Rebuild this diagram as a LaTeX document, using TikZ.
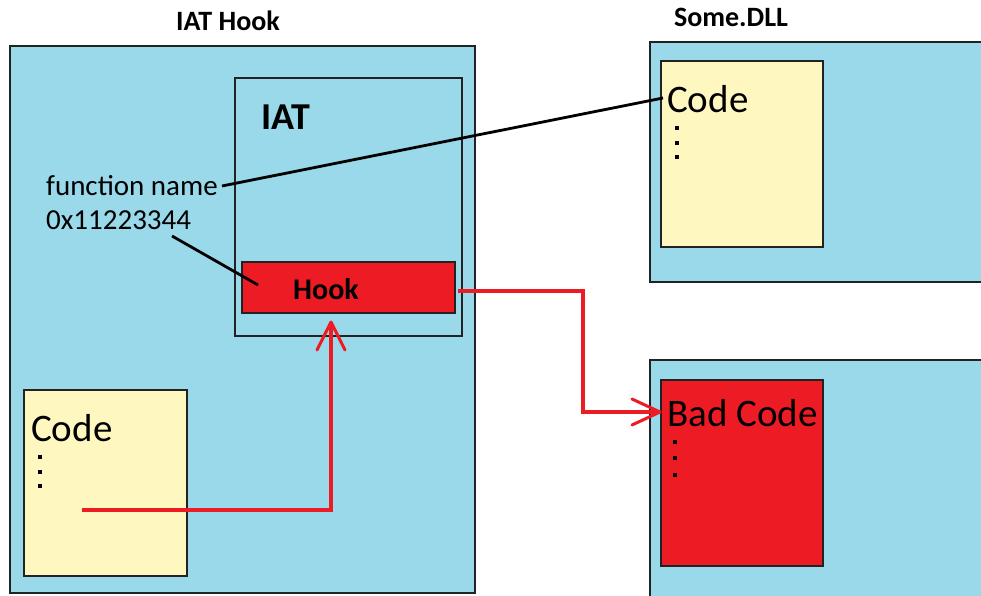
\documentclass[tikz,border=0pt]{standalone}
\usepackage{fontspec}
\setmainfont{Carlito}
\definecolor{skyb}{HTML}{9AD9EA}
\definecolor{cream}{HTML}{FFF7C0}
\definecolor{paintred}{HTML}{ED1C24}
\definecolor{edge}{HTML}{222222}
\tikzset{
  box/.style={draw=edge, line width=1.3pt, anchor=north west, inner sep=0pt, outer sep=0pt},
  title/.style={font=\bfseries\fontsize{28}{28}\selectfont, inner sep=0pt},
  bigtxt/.style={font=\fontsize{39}{39}\selectfont, inner sep=0pt, anchor=west},
  lbl/.style={font=\fontsize{29}{29}\selectfont, inner sep=0pt, anchor=west},
  link/.style={line width=2.8pt, draw=black},
  redline/.style={line width=3.4pt, draw=paintred, line join=miter},
  barb/.style={line width=3pt, draw=paintred, line join=round, line cap=round},
  dot/.style={fill=black, minimum size=4.5pt, inner sep=0pt, shape=rectangle}
}
\begin{document}
\begin{tikzpicture}[x=1pt,y=-1pt]
\useasboundingbox (0,0) rectangle (981,596);
% titles
\node[title] (t1) at (228,21) {IAT Hook};
\node[title] (t2) at (731,17) {Some.DLL};
% left big box
\node[box, fill=skyb, minimum width=465pt, minimum height=547pt] (main) at (10,46) {};
% IAT box
\node[box, fill=skyb, minimum width=227pt, minimum height=258pt] (iat) at (235,78) {};
\node[font=\bfseries\fontsize{38}{38}\selectfont, inner sep=0pt, anchor=west] (iatl) at (261,117) {IAT};
% Hook box
\node[box, fill=paintred, minimum width=213pt, minimum height=51pt] (hook) at (242,262) {};
\node[font=\bfseries\fontsize{30}{30}\selectfont, inner sep=0pt] (hookl) at (326,289) {Hook};
% labels
\node[lbl] (fn) at (46,186) {function name};
\node[lbl] (addr) at (46,220) {0x11223344};
% left code box
\node[box, fill=cream, minimum width=163pt, minimum height=186pt] (lcode) at (24,390) {};
\node[bigtxt] (lcodel) at (31,428) {Code};
\node[dot] (ld1) at (40,457) {};
\node[dot] (ld2) at (40,472) {};
\node[dot] (ld3) at (40,486) {};
% Some.DLL box
\node[box, fill=skyb, minimum width=340pt, minimum height=240pt] (dll) at (650,42) {};
\node[box, fill=cream, minimum width=162pt, minimum height=186pt] (rcode) at (661,61) {};
\node[bigtxt] (rcodel) at (667,99) {Code};
\node[dot] (rd1) at (677,128) {};
\node[dot] (rd2) at (677,143) {};
\node[dot] (rd3) at (677,157) {};
% bad box
\node[box, fill=skyb, minimum width=340pt, minimum height=250pt] (bad) at (650,360) {};
\node[box, fill=paintred, minimum width=162pt, minimum height=186pt] (badc) at (661,380) {};
\node[bigtxt] (badl) at (667,413) {Bad Code};
\node[dot] (bd1) at (675,442) {};
\node[dot] (bd2) at (675,458) {};
\node[dot] (bd3) at (675,475) {};
% connectors
\coordinate (fnend) at (222,186);
\coordinate (codeend) at (663,98);
\draw[link] (fnend) -- (codeend);
\coordinate (addrend) at (172,236);
\coordinate (hookpt) at (258,285);
\draw[link] (addrend) -- (hookpt);
% red arrow to hook
\coordinate (callsrc) at (82,510);
\coordinate (callbend) at (331,510);
\coordinate (hooktip) at (331,322);
\draw[redline] (callsrc) -- (callbend) -- (hooktip);
\draw[barb] ([xshift=-14pt,yshift=-28pt]hooktip) -- (hooktip) -- ([xshift=14pt,yshift=-28pt]hooktip);
% red arrow to bad code
\coordinate (hookout) at (458,291);
\coordinate (b1) at (583,291);
\coordinate (b2) at (583,412);
\coordinate (badtip) at (660,412);
\draw[redline] (hookout) -- (b1) -- (b2) -- (badtip);
\draw[barb] ([xshift=-28pt,yshift=13pt]badtip) -- (badtip) -- ([xshift=-28pt,yshift=-13pt]badtip);
\end{tikzpicture}
\end{document}
